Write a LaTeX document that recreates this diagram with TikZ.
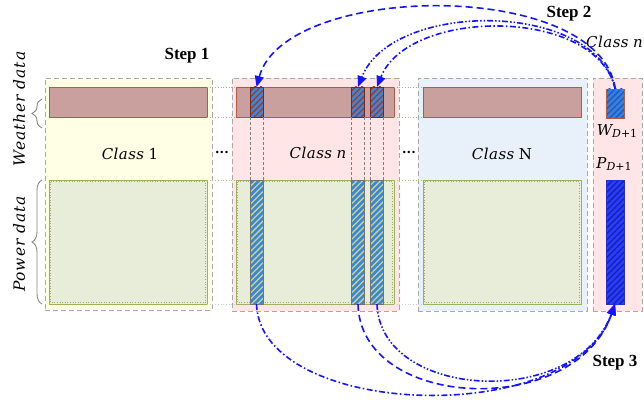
\documentclass[tikz,border=0pt]{standalone}
\usepackage{fontspec}
\newfontfamily\stepfont{Liberation Serif}
\newfontfamily\labfont{DejaVu Serif}
\usetikzlibrary{patterns.meta,decorations.pathreplacing,arrows.meta}

\definecolor{boxgray}{HTML}{A8A8A8}
\definecolor{yelfill}{HTML}{FFFFE6}
\definecolor{pinkfill}{HTML}{FFE5E5}
\definecolor{bluefill}{HTML}{E8F1FA}
\definecolor{wfill}{HTML}{C9A09E}
\definecolor{wline}{HTML}{B25A48}
\definecolor{pfill}{HTML}{E8EDD9}
\definecolor{pline}{HTML}{9CB061}
\definecolor{stripblue}{HTML}{3C86D8}
\definecolor{stripred}{HTML}{A03A28}
\definecolor{stripgreen}{HTML}{C5D68E}
\definecolor{newblue}{HTML}{3A7EE0}
\definecolor{newdark}{HTML}{2058B8}
\definecolor{pblue}{HTML}{2B3BFF}
\definecolor{pdark}{HTML}{1422A8}
\definecolor{arrowblue}{HTML}{1414FF}
\definecolor{bracegray}{HTML}{85857A}

% "Class" in italic, followed by its index
\newcommand\cls[1]{{\itshape\addfontfeature{LetterSpace=3}Class}\hspace{0.3em}#1}
% variable with a lowered, smaller subscript
\newcommand\subvar[2]{{\itshape #1}\raisebox{-0.35ex}{\fontsize{11}{12}\selectfont\itshape #2}}

\tikzset{
  box/.style={anchor=north west, inner sep=0pt, outer sep=0pt},
  classbox/.style={box, draw=boxgray, dash pattern=on 5pt off 3pt, line width=0.9pt},
  wbar/.style={box, fill=wfill, draw=wline, line width=0.9pt},
  pbar/.style={box, fill=pfill, draw=pline, line width=0.9pt},
  hatch/.style 2 args={preaction={fill=#1},
    pattern={Lines[angle=45,distance=4.2pt,line width=1.3pt]}, pattern color=#2},
  wstrip/.style={box, hatch={stripblue}{stripred}, draw=stripred!70!black, line width=0.8pt,
    minimum width=13pt, minimum height=30pt},
  pstrip/.style={box, hatch={stripblue}{stripgreen}, draw=gray!90!black, line width=0.9pt,
    minimum width=13pt, minimum height=124pt},
  gapdot/.style={dotted, line width=0.7pt},
  guide/.style={draw=gray, dash pattern=on 3pt off 2pt, line width=0.8pt},
  arr/.style={draw=arrowblue, line width=1.6pt, -{Triangle[length=11pt,width=9pt]}},
  longdash/.style={dash pattern=on 7pt off 4pt},
  dashdot/.style={dash pattern=on 6pt off 2.5pt on 1.5pt off 2.5pt},
  dashdotdot/.style={dash pattern=on 6pt off 2pt on 1.5pt off 2pt on 1.5pt off 2pt},
  steplabel/.style={font=\stepfont\bfseries\fontsize{17}{20}\selectfont},
  clslabel/.style={font=\labfont\fontsize{15}{18}\selectfont},
  sidelabel/.style={rotate=90, font=\labfont\fontsize{15.5}{18}\selectfont\itshape\addfontfeature{LetterSpace=6}},
  brace/.style={draw=bracegray, line width=0.9pt, decorate, decoration={brace, amplitude=10pt}},
}

\begin{document}
\begin{tikzpicture}[x=1pt, y=-1pt]
\useasboundingbox (0,0) rectangle (644,401);

% class frames
\node[classbox, fill=yelfill,  minimum width=167pt, minimum height=232pt] (c1) at (45,78) {};
\node[classbox, fill=pinkfill, minimum width=167pt, minimum height=233pt] (cn) at (232,78) {};
\node[classbox, fill=bluefill, minimum width=169pt, minimum height=233pt] (cN) at (418,78) {};
\node[classbox, fill=pinkfill, minimum width=49pt,  minimum height=233pt] (cr) at (593,78) {};

% weather rows
\node[wbar, minimum width=158pt, minimum height=30pt] (w1) at (49,87) {};
\node[wbar, minimum width=158pt, minimum height=30pt] (wn) at (236,87) {};
\node[wbar, minimum width=158pt, minimum height=30pt] (wN) at (423,87) {};

% power rows
\node[pbar, minimum width=158pt, minimum height=124pt] (p1) at (49,180) {};
\node[pbar, minimum width=158pt, minimum height=124pt] (pn) at (236,180) {};
\node[pbar, minimum width=158pt, minimum height=124pt] (pN) at (423,180) {};
\foreach \b in {p1,pn,pN}
  \draw[pline, dotted, line width=0.6pt] ([shift={(1.5,1.5)}]\b.north west) rectangle ([shift={(-1.5,-1.5)}]\b.south east);

% dotted links across the gaps
\draw[gapdot, wline!60] (w1.north east) -- (wn.north west);
\draw[gapdot, wline!60] (w1.south east) -- (wn.south west);
\draw[gapdot, wline!60] (wn.north east) -- (wN.north west);
\draw[gapdot, wline!60] (wn.south east) -- (wN.south west);
\draw[gapdot, pline!80] (p1.north east) -- (pn.north west);
\draw[gapdot, gray!40] (p1.south east) -- (pn.south west);
\draw[gapdot, pline!80] (pn.north east) -- (pN.north west);
\draw[gapdot, gray!40] (pn.south east) -- (pN.south west);

% selected days in class n
\node[wstrip] (ws1) at (250,87) {};
\node[wstrip] (ws2) at (351.5,87) {};
\node[wstrip] (ws3) at (370.5,87) {};
\node[pstrip] (ps1) at (250,180) {};
\node[pstrip] (ps2) at (351.5,180) {};
\node[pstrip] (ps3) at (370.5,180) {};
\foreach \i in {1,2,3} {
  \draw[guide] (ws\i.south west) -- (ps\i.north west);
  \draw[guide] (ws\i.south east) -- (ps\i.north east);
}

% next day
\node[box, hatch={newblue}{newdark}, draw=wline, line width=0.9pt,
      minimum width=17.5pt, minimum height=29pt] (wD) at (606.5,89) {};
\node[box, hatch={pblue}{pdark}, draw=pblue!80!black, line width=1pt,
      minimum width=18pt, minimum height=124pt] (pD) at (606,180) {};
\node[clslabel] (wDl) at (617,131) {\subvar{W}{D\upshape+1}};
\node[clslabel] (pDl) at (614,164) {\subvar{P}{D\upshape+1}};

% labels
\node[clslabel] (l1) at (130,154) {\cls{1}};
\node[clslabel] (ln) at (318,153) {\cls{\itshape n}};
\node[clslabel] (lN) at (502,154) {\cls{N}};
\node[clslabel, font=\labfont\bfseries\fontsize{13}{16}\selectfont] (d1) at (222,152) {...};
\node[clslabel, font=\labfont\bfseries\fontsize{13}{16}\selectfont] (d2) at (409,152) {...};
\node[clslabel, anchor=east, inner sep=1pt] (lr) at (644,42) {\cls{\itshape n}};
\node[steplabel] (s1) at (187,56) {Step 1};
\node[steplabel] (s2) at (569,14) {Step 2};
\node[steplabel] (s3) at (615,363) {Step 3};

% side labels and braces
\node[sidelabel] (wl) at (19,109) {Weather data};
\node[sidelabel] (pl) at (19,244) {Power data};
\coordinate (wb1) at (42,128); \coordinate (wb2) at (42,99);
\coordinate (pb1) at (42,304); \coordinate (pb2) at (42,180);
\draw[brace] (wb1) -- (wb2);
\draw[brace] (pb1) -- (pb2);

% step 2: weather of the next day matched to days in class n
\draw[arr, longdash] (wD.north) .. controls (600,-22) and (285,-18) .. (ws1.north);
\draw[arr, dashdotdot] (wD.north) .. controls (596,0) and (392,0) .. (ws2.north);
\draw[arr, dashdot] (wD.north) .. controls (596,6) and (408,8) .. (ws3.north);

% step 3: their power profiles give the forecast
\draw[arr, dashdot] (ps1.south) .. controls (260,418) and (572,430) .. (pD.south);
\draw[arr, longdash] (ps2.south) .. controls (360,410) and (575,420) .. (pD.south);
\draw[arr, dashdotdot] (ps3.south) .. controls (380,400) and (576,410) .. (pD.south);
\end{tikzpicture}
\end{document}
